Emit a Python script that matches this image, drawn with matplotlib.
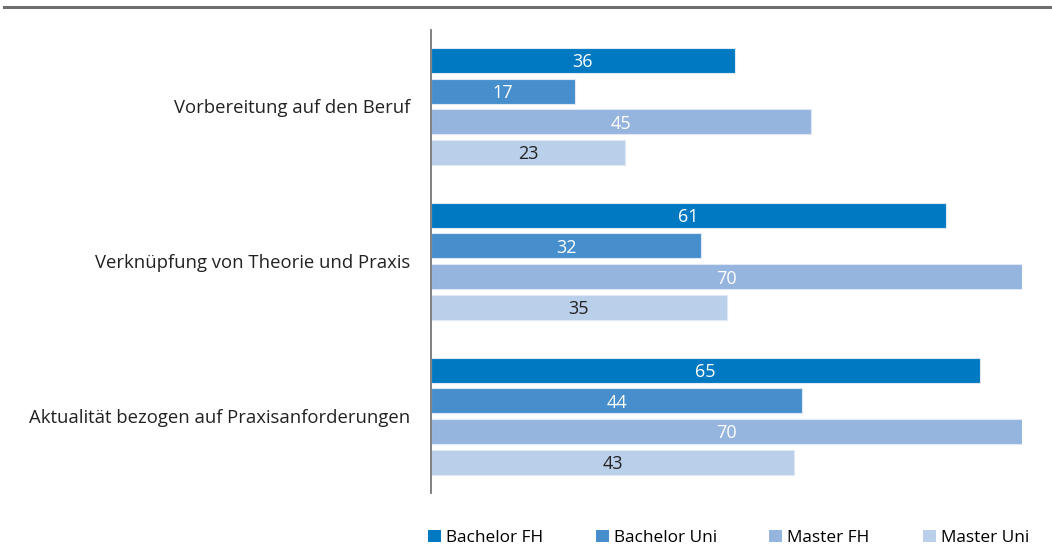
import numpy as np
import matplotlib.pyplot as plt
from matplotlib.lines import Line2D
from matplotlib.patches import Patch

plt.rcParams['font.family'] = ['Open Sans', 'DejaVu Sans']

categories = ["Vorbereitung auf den Beruf",
              "Verknüpfung von Theorie und Praxis",
              "Aktualität bezogen auf Praxisanforderungen"]
series = ["Bachelor FH", "Bachelor Uni", "Master FH", "Master Uni"]
values = [
    [36, 61, 65],   # Bachelor FH
    [17, 32, 44],   # Bachelor Uni
    [45, 70, 70],   # Master FH
    [23, 35, 43],   # Master Uni
]
colors = ["#0079c2", "#478fcc", "#95b4de", "#bacfea"]
text_colors = ["white", "white", "white", "#222222"]

fig = plt.figure(figsize=(10.52, 5.47), dpi=100)
ax = fig.add_axes([431 / 1052, 54 / 547, (1022 - 431) / 1052, (493 - 30) / 547])

y = np.arange(len(categories))
step = 0.198
h = 0.162
for j, s in enumerate(series):
    pos = y + (j - 1.5) * step
    bars = ax.barh(pos, values[j], height=h, color=colors[j],
                   edgecolor="#dfe9f5", linewidth=0.8, label=s)
    for b, v in zip(bars, values[j]):
        ax.text(b.get_width() / 2, b.get_y() + b.get_height() / 2, str(v),
                ha="center", va="center_baseline", color=text_colors[j], fontsize=13)

ax.set_xlim(0, 70)
ax.set_ylim(2.497, -0.494)
ax.set_yticks(y)
ax.set_yticklabels(categories, fontsize=13.3, color="#222222")
ax.tick_params(axis="y", length=0, pad=15)
ax.set_xticks([])
for side in ["top", "right", "bottom"]:
    ax.spines[side].set_visible(False)
ax.spines["left"].set_color("#777777")
ax.spines["left"].set_linewidth(1.3)

# top rule
fig.add_artist(Line2D([4 / 1052, 1], [540 / 547, 540 / 547],
                      color="#6e6e6e", linewidth=2.2))

# legend, entries spaced like the original
legend_x = [423, 591, 764, 918]
for j, s in enumerate(series):
    fig.legend(handles=[Patch(facecolor=colors[j], edgecolor="none")], labels=[s],
               loc="center left", bbox_to_anchor=(legend_x[j] / 1052, 9 / 547),
               frameon=False, fontsize=12.4, handlelength=0.75, handleheight=0.75,
               handletextpad=0.3, borderaxespad=0, borderpad=0.3)

fig.savefig("out.png", dpi=100, facecolor="white")
